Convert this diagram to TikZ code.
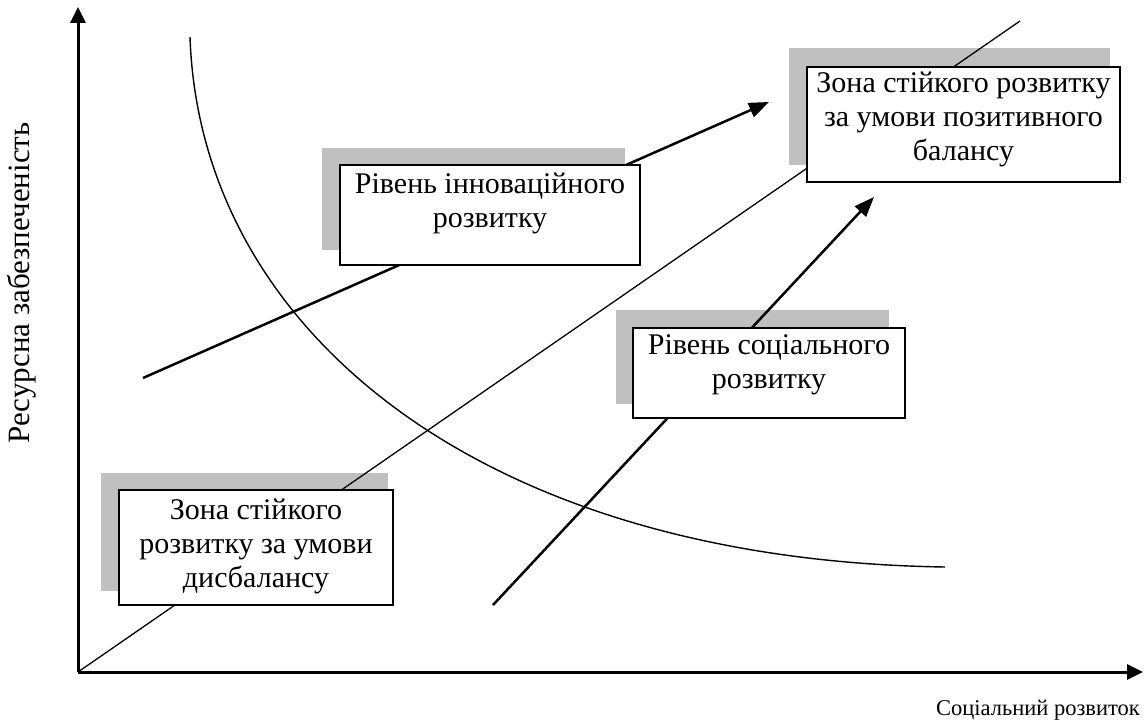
\documentclass[tikz,border=0pt]{standalone}
\usepackage{fontspec}
\setmainfont{Liberation Serif}
\usetikzlibrary{arrows.meta}
\definecolor{shadowgray}{HTML}{C0C0C0}
\begin{document}
\begin{tikzpicture}[x=1pt,y=-1pt,
  axis/.style={line width=3pt,-{Triangle[length=16pt,width=15pt]}},
  thickarrow/.style={line width=2.5pt,-{Triangle[length=20pt,width=15pt]}},
  thinline/.style={line width=1.3pt},
  curveline/.style={line width=1.4pt},
  shadowbox/.style={fill=shadowgray,draw=none,inner sep=0pt},
  whitebox/.style={fill=white,draw=black,line width=1.6pt,inner sep=0pt},
  boxtext/.style={align=center,inner xsep=0pt,inner ysep=0pt,anchor=north,font=\fontsize{30}{34}\selectfont},
  xlabelstyle/.style={font=\fontsize{22.5}{26}\selectfont,inner sep=0pt},
  ylabelstyle/.style={font=\fontsize{31}{34}\selectfont,inner sep=0pt}
]
\useasboundingbox (0,0) rectangle (1145,727);
% coordinates
\coordinate (O) at (78,672);
\coordinate (ytip) at (78,7);
\coordinate (xtip) at (1143,672);
\coordinate (diagEnd) at (1020,21);
\coordinate (innA) at (143,378);
\coordinate (innB) at (769,102);
\coordinate (socA) at (493,605);
\coordinate (socB) at (874,197);
\coordinate (cvA) at (190,37);
\coordinate (cvB) at (945,567);
% shadows
\node[shadowbox,minimum width=303,minimum height=102] (s1) at (473.5,199) {};
\node[shadowbox,minimum width=273,minimum height=94] (s2) at (752.5,357) {};
\node[shadowbox,minimum width=287,minimum height=118] (s3) at (244.5,532) {};
\node[shadowbox,minimum width=321,minimum height=117] (s4) at (949.5,106.5) {};
% lines
\draw[thinline] (O) -- (diagEnd);
\draw[thickarrow] (innA) -- (innB);
\draw[thickarrow] (socA) -- (socB);
\draw[curveline] (cvA) .. controls (200,330) and (480,560) .. (cvB);
% white boxes
\node[whitebox,minimum width=300,minimum height=100] (b1) at (490,215) {};
\node[boxtext] (b1t) at ([yshift=-9]b1.north) {Рівень інноваційного\\розвитку};
\node[whitebox,minimum width=272,minimum height=90] (b2) at (769,373) {};
\node[boxtext] (b2t) at ([yshift=-7]b2.north) {Рівень соціального\\розвитку};
\node[whitebox,minimum width=274,minimum height=115] (b3) at (256,547.5) {};
\node[boxtext] (b3t) at ([yshift=-10]b3.north) {Зона стійкого\\розвитку за умови\\дисбалансу};
\node[whitebox,minimum width=313,minimum height=115] (b4) at (963.5,124.5) {};
\node[boxtext] (b4t) at ([yshift=-6]b4.north) {Зона стійкого розвитку\\за умови позитивного\\балансу};
% axes
\draw[axis] (O) -- (ytip);
\draw[axis] (O) -- (xtip);
% labels
\node[ylabelstyle,rotate=90] (ylab) at (22,283) {Ресурсна забезпеченість};
\node[xlabelstyle,anchor=base east] (xlab) at (1140,715) {Соціальний розвиток};
\end{tikzpicture}
\end{document}
